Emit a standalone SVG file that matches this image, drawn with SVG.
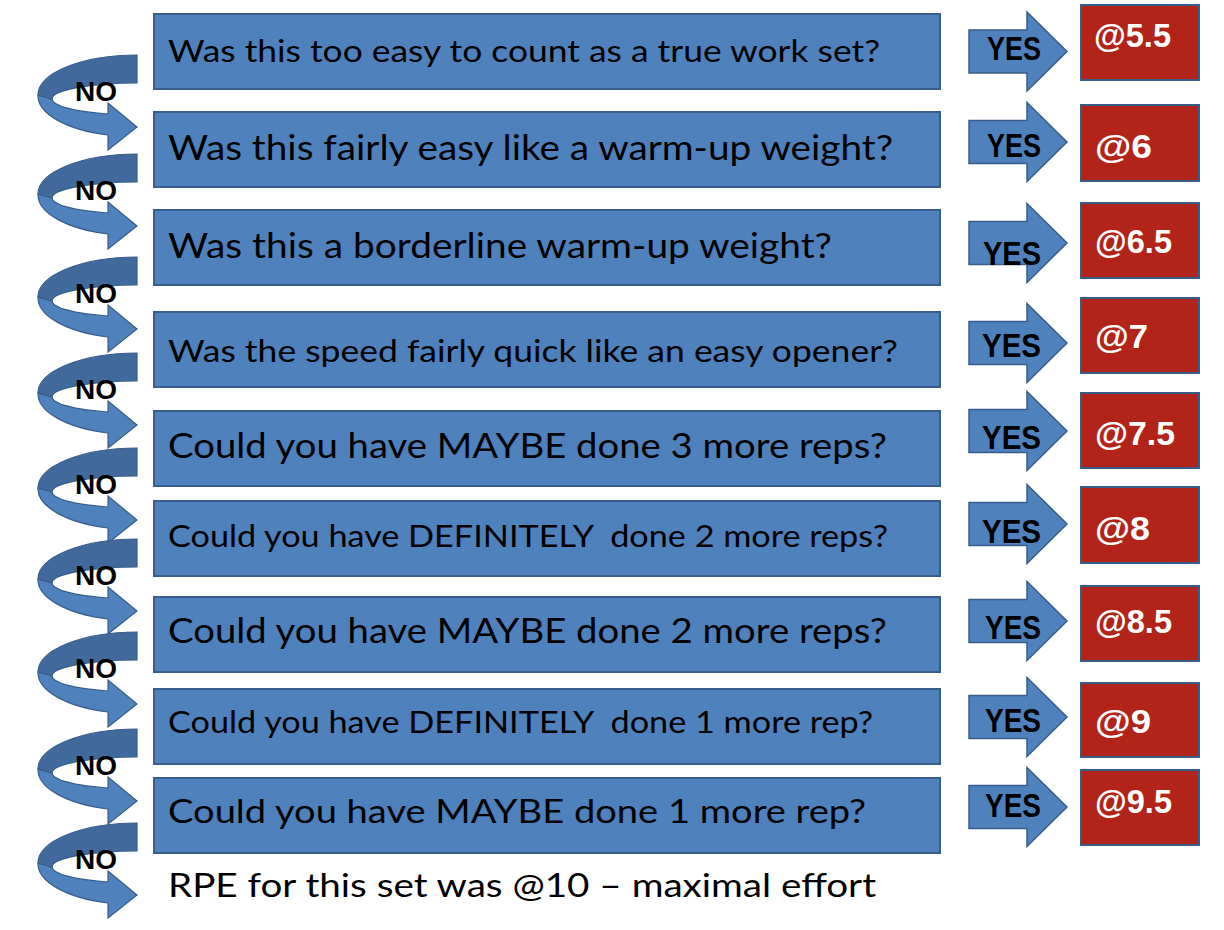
<svg xmlns="http://www.w3.org/2000/svg" width="1224" height="930" viewBox="0 0 1224 930">
<defs>
<style>
.q{fill:#4F81BD;stroke:#385D8A;stroke-width:2}
.r{fill:#B2231A;stroke:#385D8A;stroke-width:2}
.qt{font-family:Lato,"Liberation Sans",sans-serif;fill:#000;white-space:pre}
.rt{font-family:"Liberation Sans",Arial,sans-serif;font-weight:bold;font-size:33px;fill:#fff}
.ya{fill:#4F81BD;stroke:#385D8A;stroke-width:1.5}
.yt{font-family:"Liberation Sans",Arial,sans-serif;font-weight:bold;font-size:34px;fill:#000}
.nd{fill:#41699C;stroke:#385D8A;stroke-width:1.2}
.nl{fill:#4F81BD;stroke:#385D8A;stroke-width:1.2}
.nt{font-family:"Liberation Sans",Arial,sans-serif;font-weight:bold;font-size:27px;fill:#000}
</style>
<g id="curve">
<path class="nl" d="M38,40 A99,41 0 0,0 108,80 L108,95 L137,72 L108,48 L108,59 A85,16 0 0,1 52,44 Z"/>
<path class="nd" d="M137,0 A99,40 0 0,0 38,40 L52,44 A85,16 0 0,1 137,28 Z"/>
</g>
<path id="yarrow" class="ya" d="M969,-21.5 L1027,-21.5 L1027,-39.5 L1067,0 L1027,39.5 L1027,21.5 L969,21.5 Z"/>
</defs>

<g id="connectors">
<g id="no1" transform="translate(0,55)"><use href="#curve"/><text class="nt" x="75" y="46" textLength="42" lengthAdjust="spacingAndGlyphs">NO</text></g>
<g id="no2" transform="translate(0,154)"><use href="#curve"/><text class="nt" x="75" y="46" textLength="42" lengthAdjust="spacingAndGlyphs">NO</text></g>
<g id="no3" transform="translate(0,257)"><use href="#curve"/><text class="nt" x="75" y="46" textLength="42" lengthAdjust="spacingAndGlyphs">NO</text></g>
<g id="no4" transform="translate(0,353)"><use href="#curve"/><text class="nt" x="75" y="46" textLength="42" lengthAdjust="spacingAndGlyphs">NO</text></g>
<g id="no5" transform="translate(0,448)"><use href="#curve"/><text class="nt" x="75" y="46" textLength="42" lengthAdjust="spacingAndGlyphs">NO</text></g>
<g id="no6" transform="translate(0,539)"><use href="#curve"/><text class="nt" x="75" y="46" textLength="42" lengthAdjust="spacingAndGlyphs">NO</text></g>
<g id="no7" transform="translate(0,632)"><use href="#curve"/><text class="nt" x="75" y="46" textLength="42" lengthAdjust="spacingAndGlyphs">NO</text></g>
<g id="no8" transform="translate(0,729)"><use href="#curve"/><text class="nt" x="75" y="46" textLength="42" lengthAdjust="spacingAndGlyphs">NO</text></g>
<g id="no9" transform="translate(0,823)"><use href="#curve"/><text class="nt" x="75" y="46" textLength="42" lengthAdjust="spacingAndGlyphs">NO</text></g>

<g id="yes1"><use href="#yarrow" transform="translate(0,51.5)"/><text class="yt" x="987" y="60" textLength="54" lengthAdjust="spacingAndGlyphs">YES</text></g>
<g id="yes2"><use href="#yarrow" transform="translate(0,142)"/><text class="yt" x="987" y="157" textLength="54" lengthAdjust="spacingAndGlyphs">YES</text></g>
<g id="yes3"><use href="#yarrow" transform="translate(0,243)"/><text class="yt" x="983" y="265" textLength="58" lengthAdjust="spacingAndGlyphs">YES</text></g>
<g id="yes4"><use href="#yarrow" transform="translate(0,343)"/><text class="yt" x="982" y="357" textLength="59" lengthAdjust="spacingAndGlyphs">YES</text></g>
<g id="yes5"><use href="#yarrow" transform="translate(0,431)"/><text class="yt" x="982" y="449" textLength="59" lengthAdjust="spacingAndGlyphs">YES</text></g>
<g id="yes6"><use href="#yarrow" transform="translate(0,524)"/><text class="yt" x="982" y="543" textLength="59" lengthAdjust="spacingAndGlyphs">YES</text></g>
<g id="yes7"><use href="#yarrow" transform="translate(0,621)"/><text class="yt" x="985" y="639" textLength="56" lengthAdjust="spacingAndGlyphs">YES</text></g>
<g id="yes8"><use href="#yarrow" transform="translate(0,717)"/><text class="yt" x="985" y="732" textLength="56" lengthAdjust="spacingAndGlyphs">YES</text></g>
<g id="yes9"><use href="#yarrow" transform="translate(0,807)"/><text class="yt" x="985" y="817" textLength="56" lengthAdjust="spacingAndGlyphs">YES</text></g>
</g>

<g id="q1"><rect class="q" x="154" y="14" width="786" height="75"/><text class="qt" x="168" y="62" font-size="31" textLength="712" lengthAdjust="spacingAndGlyphs">Was this too easy to count as a true work set?</text></g>
<g id="q2"><rect class="q" x="154" y="112" width="786" height="75"/><text class="qt" x="168" y="160" font-size="35" textLength="725" lengthAdjust="spacingAndGlyphs">Was this fairly easy like a warm-up weight?</text></g>
<g id="q3"><rect class="q" x="154" y="210" width="786" height="75"/><text class="qt" x="168" y="258" font-size="35" textLength="664" lengthAdjust="spacingAndGlyphs">Was this a borderline warm-up weight?</text></g>
<g id="q4"><rect class="q" x="154" y="312" width="786" height="75"/><text class="qt" x="168" y="362" font-size="31" textLength="730" lengthAdjust="spacingAndGlyphs">Was the speed fairly quick like an easy opener?</text></g>
<g id="q5"><rect class="q" x="154" y="411" width="786" height="75"/><text class="qt" x="168" y="458" font-size="35" textLength="719" lengthAdjust="spacingAndGlyphs">Could you have MAYBE done 3 more reps?</text></g>
<g id="q6"><rect class="q" x="154" y="501" width="786" height="75"/><text class="qt" x="168" y="547" font-size="31" textLength="720" lengthAdjust="spacingAndGlyphs">Could you have DEFINITELY  done 2 more reps?</text></g>
<g id="q7"><rect class="q" x="154" y="597" width="786" height="75"/><text class="qt" x="168" y="643" font-size="34" textLength="719" lengthAdjust="spacingAndGlyphs">Could you have MAYBE done 2 more reps?</text></g>
<g id="q8"><rect class="q" x="154" y="689" width="786" height="75"/><text class="qt" x="168" y="733" font-size="30" textLength="705" lengthAdjust="spacingAndGlyphs">Could you have DEFINITELY  done 1 more rep?</text></g>
<g id="q9"><rect class="q" x="154" y="778" width="786" height="75"/><text class="qt" x="168" y="823" font-size="33" textLength="698" lengthAdjust="spacingAndGlyphs">Could you have MAYBE done 1 more rep?</text></g>

<g id="final"><text class="qt" x="168" y="897" font-size="33" textLength="708" lengthAdjust="spacingAndGlyphs">RPE for this set was @10 – maximal effort</text></g>

<g id="r1"><rect class="r" x="1081" y="5" width="118" height="75"/><text class="rt" x="1094" y="47" textLength="77" lengthAdjust="spacingAndGlyphs">@5.5</text></g>
<g id="r2"><rect class="r" x="1081" y="105" width="118" height="76"/><text class="rt" x="1095" y="158" textLength="57" lengthAdjust="spacingAndGlyphs">@6</text></g>
<g id="r3"><rect class="r" x="1081" y="203" width="118" height="75"/><text class="rt" x="1095" y="253" textLength="77" lengthAdjust="spacingAndGlyphs">@6.5</text></g>
<g id="r4"><rect class="r" x="1081" y="298" width="118" height="75"/><text class="rt" x="1095" y="348" textLength="53" lengthAdjust="spacingAndGlyphs">@7</text></g>
<g id="r5"><rect class="r" x="1081" y="393" width="118" height="75"/><text class="rt" x="1095" y="445" textLength="80" lengthAdjust="spacingAndGlyphs">@7.5</text></g>
<g id="r6"><rect class="r" x="1081" y="487" width="118" height="76"/><text class="rt" x="1095" y="540" textLength="55" lengthAdjust="spacingAndGlyphs">@8</text></g>
<g id="r7"><rect class="r" x="1081" y="586" width="118" height="75"/><text class="rt" x="1095" y="633" textLength="77" lengthAdjust="spacingAndGlyphs">@8.5</text></g>
<g id="r8"><rect class="r" x="1081" y="683" width="118" height="74"/><text class="rt" x="1095" y="733" textLength="56" lengthAdjust="spacingAndGlyphs">@9</text></g>
<g id="r9"><rect class="r" x="1081" y="770" width="118" height="75"/><text class="rt" x="1095" y="813" textLength="77" lengthAdjust="spacingAndGlyphs">@9.5</text></g>
</svg>
